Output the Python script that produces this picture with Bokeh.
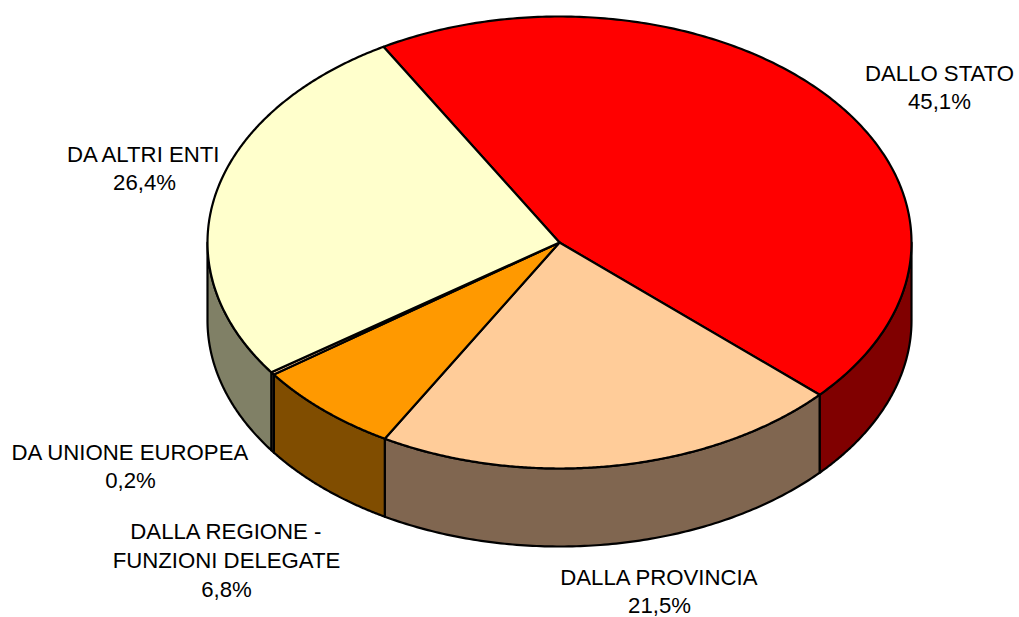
import numpy as np
from bokeh.plotting import figure
from bokeh.models import Range1d
from bokeh.embed import file_html
from bokeh.resources import INLINE
from bokeh.core.properties import value

labels = ["DALLO STATO\n45,1%", "DALLA PROVINCIA\n21,5%", "DALLA REGIONE -\nFUNZIONI DELEGATE\n6,8%",
          "DA UNIONE EUROPEA\n0,2%", "DA ALTRI ENTI\n26,4%"]
shares = [45.1, 21.5, 6.8, 0.2, 26.4]
top_colors = ["#FF0000", "#FFCC99", "#FF9900", "#FFCC99", "#FFFFCC"]
side_colors = ["#800000", "#806650", "#804D00", "#806650", "#808066"]
label_x = [939, 659, 226, 130, 144]
label_y = [87, 591, 560, 466, 168]

CX, CY, RX, RY, DEPTH = 559, 242, 352, 226, 78
START = 120.0

p = figure(width=1019, height=617, output_backend="svg", toolbar_location=None,
           x_range=Range1d(0, 1019), y_range=Range1d(617, 0),
           min_border=0, outline_line_color=None, background_fill_color="white")
p.axis.visible = False
p.grid.visible = False

def pts(a):
    r = np.radians(a)
    return CX + RX * np.cos(r), CY - RY * np.sin(r)

edges = START - np.cumsum([0] + shares) * 3.6
tops = []
for i, (a0, a1) in enumerate(zip(edges[:-1], edges[1:])):
    tops.append((a0, a1, top_colors[i]))
    # visible wall: front half of the ellipse, angles between 180 and 360
    seg = None
    for shift in (0, -360, 360):
        h = min(a0 + shift, 360)
        l = max(a1 + shift, 180)
        if h > l:
            seg = (h, l)
            break
    if seg:
        t = np.linspace(seg[0], seg[1], 120)
        x, y = pts(t)
        xs = np.concatenate([x, x[::-1]])
        ys = np.concatenate([y, y[::-1] + DEPTH])
        p.patch(xs, ys, fill_color=side_colors[i], line_color="black", line_width=2.2, line_join="round")

for a0, a1, c in tops:
    t = np.linspace(a0, a1, 240)
    x, y = pts(t)
    p.patch(np.concatenate([[CX], x]), np.concatenate([[CY], y]), fill_color=c,
            line_color="black", line_width=2.2, line_join="round")

for s, x, y in zip(labels, label_x, label_y):
    p.text([x], [y], text=[s], text_font=value("Liberation Sans"), text_font_size="22.2px",
           text_align="center", text_baseline="middle", text_color="black", text_line_height=1.15)

open("out.html", "w").write(file_html(p, INLINE))
